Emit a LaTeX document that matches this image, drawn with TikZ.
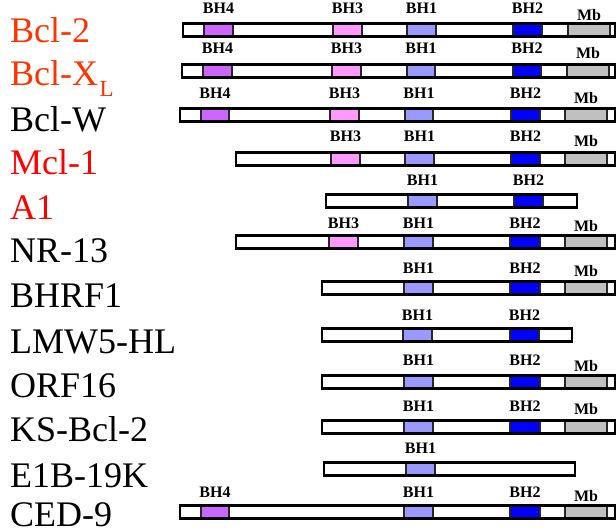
\documentclass[tikz,border=0pt]{standalone}
\usepackage{fontspec}
\setmainfont{Liberation Serif}
\definecolor{cBHfour}{RGB}{204,102,255}
\definecolor{cBHthree}{RGB}{255,153,255}
\definecolor{cBHone}{RGB}{153,153,255}
\definecolor{cBHtwo}{RGB}{0,0,255}
\definecolor{cMb}{RGB}{192,192,192}
\definecolor{cOrange}{RGB}{255,51,0}
\definecolor{cRed}{RGB}{255,0,0}
\tikzset{
  barline/.style={draw=black,line width=2.8pt},
  dom/.style={draw=black!85,line width=1.1pt},
  dlab/.style={font=\fontsize{16}{16}\selectfont\bfseries,anchor=base,inner sep=0pt},
  plab/.style={font=\fontsize{36}{36}\selectfont,anchor=base west,inner sep=0pt},
}
% #1 centre y, #2 left, #3 right, #4 list colour/x1/x2
\newcommand\protrow[4]{%
  \fill[white] (#2,#1-6.6) rectangle (#3,#1+6.6);
  \foreach \cc/\xa/\xb in {#4} {\draw[dom,fill=\cc] (\xa,#1-6.6) rectangle (\xb,#1+6.6);}
  \draw[barline] (#2,#1-6.6) rectangle (#3,#1+6.6);}
% #1 name, #2 x1, #3 x2, #4 baseline, #5 text
\newcommand\domlab[5]{\node[dlab] (#1) at ({(#2+#3)/2},#4) {#5};}
\begin{document}
\begin{tikzpicture}[x=1pt,y=-1pt]
\useasboundingbox (0,0) rectangle (616,529);
\clip (0,0) rectangle (616,529);

% protein names
\node[plab,text=cOrange] (n1) at (10,43) {Bcl-2};
\node[plab,text=cOrange] (n2) at (10,86) {Bcl-X\kern1.5pt\raisebox{-11pt}{\fontsize{23}{23}\selectfont L}};
\node[plab] (n3) at (10,132) {Bcl-W};
\node[plab,text=cRed] (n4) at (10,175) {Mcl-1};
\node[plab,text=cRed] (n5) at (10,220) {A1};
\node[plab] (n6) at (10,263) {NR-13};
\node[plab] (n7) at (10,308) {BHRF1};
\node[plab] (n8) at (10,353) {LMW5-HL};
\node[plab] (n9) at (10,397) {ORF16};
\node[plab] (n10) at (10,441) {KS-Bcl-2};
\node[plab] (n11) at (10,487) {E1B-19K};
\node[plab] (n12) at (10,526) {CED-9};

% 1 Bcl-2
\protrow{30}{183}{615}{cBHfour/204/233,cBHthree/333/362,cBHone/407/436,cBHtwo/513/542,cMb/568/610}
\domlab{a4}{204}{233}{14}{BH4}\domlab{a3}{333}{362}{14}{BH3}\domlab{a1}{407}{436}{14}{BH1}\domlab{a2}{513}{542}{14}{BH2}\domlab{am}{568}{610}{21}{Mb}
% 2 Bcl-XL
\protrow{71}{182}{615}{cBHfour/203/232,cBHthree/332/361,cBHone/407/435,cBHtwo/513/541,cMb/567/609}
\domlab{b4}{203}{232}{54}{BH4}\domlab{b3}{332}{361}{54}{BH3}\domlab{b1}{407}{435}{54}{BH1}\domlab{b2}{513}{541}{54}{BH2}\domlab{bm}{567}{609}{59}{Mb}
% 3 Bcl-W
\protrow{115}{180}{615}{cBHfour/201/229,cBHthree/330/359,cBHone/405/433,cBHtwo/511/540,cMb/565/607}
\domlab{c4}{201}{229}{99}{BH4}\domlab{c3}{330}{359}{99}{BH3}\domlab{c1}{405}{433}{99}{BH1}\domlab{c2}{511}{540}{99}{BH2}\domlab{cm}{565}{607}{104}{Mb}
% 4 Mcl-1
\protrow{159}{236}{615}{cBHthree/331/360,cBHone/405/434,cBHtwo/511/540,cMb/565/607}
\domlab{d3}{331}{360}{142}{BH3}\domlab{d1}{405}{434}{142}{BH1}\domlab{d2}{511}{540}{142}{BH2}\domlab{dm}{565}{607}{147}{Mb}
% 5 A1
\protrow{201}{326}{577}{cBHone/408/437,cBHtwo/514/543}
\domlab{e1}{408}{437}{186}{BH1}\domlab{e2}{514}{543}{186}{BH2}
% 6 NR-13
\protrow{242}{236}{615}{cBHthree/329/358,cBHone/404/433,cBHtwo/510/540,cMb/565/607}
\domlab{f3}{329}{358}{229}{BH3}\domlab{f1}{404}{433}{229}{BH1}\domlab{f2}{510}{540}{229}{BH2}\domlab{fm}{565}{607}{232}{Mb}
% 7 BHRF1
\protrow{288}{322}{615}{cBHone/404/433,cBHtwo/510/540,cMb/565/607}
\domlab{g1}{404}{433}{274}{BH1}\domlab{g2}{510}{540}{274}{BH2}\domlab{gm}{565}{607}{277}{Mb}
% 8 LMW5-HL
\protrow{335}{322}{572}{cBHone/403/432,cBHtwo/510/539}
\domlab{h1}{403}{432}{321}{BH1}\domlab{h2}{510}{539}{321}{BH2}
% 9 ORF16
\protrow{382}{322}{615}{cBHone/404/433,cBHtwo/510/540,cMb/565/607}
\domlab{i1}{404}{433}{366}{BH1}\domlab{i2}{510}{540}{366}{BH2}\domlab{im}{565}{607}{371}{Mb}
% 10 KS-Bcl-2
\protrow{427}{322}{615}{cBHone/404/433,cBHtwo/510/540,cMb/565/607}
\domlab{j1}{404}{433}{411}{BH1}\domlab{j2}{510}{540}{411}{BH2}\domlab{jm}{565}{607}{414}{Mb}
% 11 E1B-19K
\protrow{469}{324}{575}{cBHone/406/435}
\domlab{k1}{406}{435}{453}{BH1}
% 12 CED-9
\protrow{512}{180}{615}{cBHfour/201/229,cBHone/404/433,cBHtwo/510/540,cMb/565/607}
\domlab{l4}{201}{229}{497}{BH4}\domlab{l1}{404}{433}{497}{BH1}\domlab{l2}{510}{540}{497}{BH2}\domlab{lm}{565}{607}{501}{Mb}
\end{tikzpicture}
\end{document}
